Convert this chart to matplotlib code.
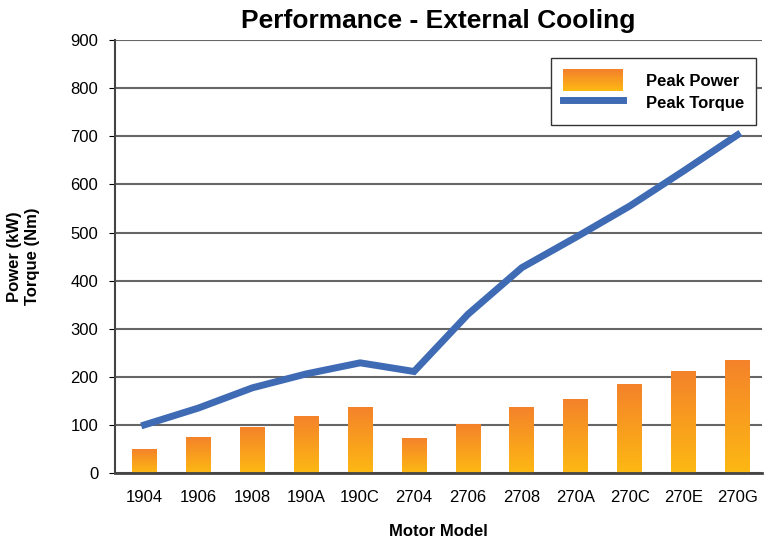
"""Performance - External Cooling: peak power bars + peak torque line."""
import numpy as np
import matplotlib
matplotlib.use("Agg")
import matplotlib.pyplot as plt
from matplotlib.legend_handler import HandlerBase
from matplotlib.patches import Rectangle
from matplotlib.colors import LinearSegmentedColormap

models = ["1904", "1906", "1908", "190A", "190C", "2704",
          "2706", "2708", "270A", "270C", "270E", "270G"]
peak_power = [48, 73, 94, 118, 137, 71, 100, 137, 152, 185, 212, 233]
peak_torque = [100, 135, 177, 206, 229, 211, 330, 427, 490, 555, 628, 703]

plt.rcParams.update({
    "font.family": ["Liberation Sans", "DejaVu Sans"],
    "font.size": 12,
})

ORANGE = "#F4822A"
YELLOW = "#FDB913"
BLUE = "#3F6BB5"
cmap = LinearSegmentedColormap.from_list("bar", [YELLOW, ORANGE])


class GradientHandler(HandlerBase):
    def create_artists(self, legend, orig_handle, xdescent, ydescent,
                       width, height, fontsize, trans):
        n = 20
        arts = []
        for i in range(n):
            r = Rectangle((-xdescent, -ydescent + i * height / n), width,
                          height / n + 0.3, facecolor=cmap(i / (n - 1)),
                          edgecolor="none", transform=trans)
            arts.append(r)
        return arts


fig = plt.figure(figsize=(7.71, 5.43), dpi=100)
ax = fig.add_axes([0.149, 0.129, 0.839, 0.797])

x = np.arange(len(models))
w = 0.46
grad = np.linspace(0, 1, 256).reshape(-1, 1)
for xi, h in zip(x, peak_power):
    ax.imshow(grad, extent=[xi - w / 2, xi + w / 2, 0, h], origin="lower",
              aspect="auto", cmap=cmap, zorder=2)

ax.plot(x, peak_torque, color=BLUE, linewidth=5, solid_joinstyle="miter",
        zorder=3)

ax.set_xlim(-0.55, 11.45)
ax.set_ylim(0, 900)
ax.set_yticks(range(0, 901, 100))
ax.set_xticks(x)
ax.set_xticklabels(models)
ax.tick_params(axis="x", length=0, pad=12)
ax.tick_params(axis="y", length=4, direction="out", pad=8)

ax.yaxis.grid(True, color="#666666", linewidth=1.5, zorder=1)
ax.set_axisbelow(True)
for s in ["right", "top"]:
    ax.spines[s].set_visible(False)
ax.spines["left"].set_color("#444444")
ax.spines["left"].set_linewidth(1.5)
ax.spines["bottom"].set_color("#444444")
ax.spines["bottom"].set_linewidth(2)

ax.set_title("Performance - External Cooling", fontsize=19,
             fontweight="bold", pad=9)
ax.set_xlabel("Motor Model", fontsize=12, fontweight="bold", labelpad=14)
ax.set_ylabel("Power (kW)\nTorque (Nm)", fontsize=12, fontweight="bold",
              labelpad=22)

power_handle = Rectangle((0, 0), 1, 1)
torque_handle = plt.Line2D([], [], color=BLUE, linewidth=5)
leg = ax.legend([power_handle, torque_handle], ["Peak Power", "Peak Torque"],
                handler_map={Rectangle: GradientHandler()},
                loc="upper right", bbox_to_anchor=(0.999, 0.97),
                fancybox=False, framealpha=1, edgecolor="#333333",
                prop={"weight": "bold", "size": 12},
                handlelength=3.6, handleheight=1.6, borderpad=0.7,
                labelspacing=0.05, handletextpad=1.4, borderaxespad=0.3)
leg.get_frame().set_linewidth(1)

fig.savefig("out.png", dpi=100)
